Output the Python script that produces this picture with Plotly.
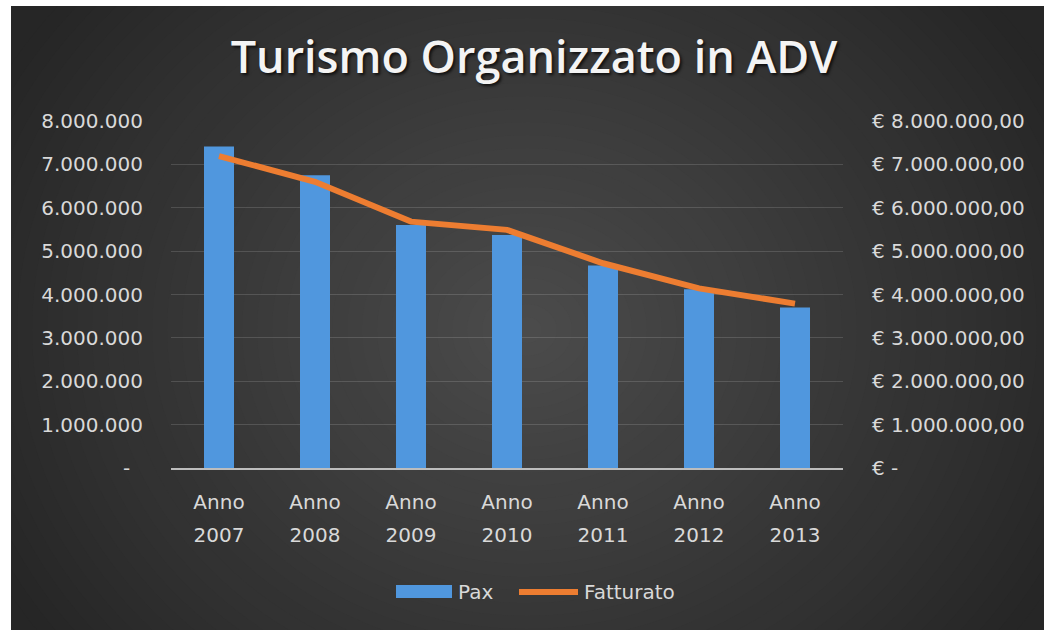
import plotly.graph_objects as go

# ---------------- data ----------------
years = ["2007", "2008", "2009", "2010", "2011", "2012", "2013"]
x_labels = ["Anno<br>" + y for y in years]
pax = [7410000, 6750000, 5600000, 5370000, 4670000, 4120000, 3700000]
fatturato = [7190000, 6600000, 5680000, 5490000, 4720000, 4140000, 3790000]

tick_vals = [0, 1000000, 2000000, 3000000, 4000000, 5000000, 6000000, 7000000, 8000000]
left_tick_text = ["-\u00a0\u00a0", "1.000.000", "2.000.000", "3.000.000", "4.000.000",
                  "5.000.000", "6.000.000", "7.000.000", "8.000.000"]
right_tick_text = ["€ -", "€ 1.000.000,00", "€ 2.000.000,00", "€ 3.000.000,00", "€ 4.000.000,00",
                   "€ 5.000.000,00", "€ 6.000.000,00", "€ 7.000.000,00", "€ 8.000.000,00"]

title_text = "Turismo Organizzato in ADV"
series_names = ["Pax", "Fatturato"]

# ---------------- geometry helpers ----------------
W, H = 1044, 630
ML, MR, MT, MB = 171, 201, 121, 162
PW, PH = W - ML - MR, H - MT - MB


def px(x):
    return (x - ML) / PW


def py(y):
    return (H - MB - y) / PH


FONT = "DejaVu Sans"
TXT = "#d9d9d9"

fig = go.Figure()
fig.add_trace(go.Bar(
    x=x_labels, y=pax, name=series_names[0],
    marker=dict(color="#5097de", line=dict(width=0)),
    showlegend=False, yaxis="y",
))
fig.add_trace(go.Scatter(
    x=x_labels, y=fatturato, name=series_names[1], mode="lines",
    line=dict(color="#ed7d31", width=6),
    showlegend=False, yaxis="y2",
))

shapes = []
# dark chart background
shapes.append(dict(type="rect", xref="paper", yref="paper", layer="below",
                   x0=px(-20), x1=px(W + 20), y0=py(H + 20), y1=py(-20),
                   fillcolor="#262626", line=dict(width=0)))
# radial light gradient approximated by stacked solid ellipses
cx, cy, rx, ry = 527, 330, 600, 520
base, delta = 38, 37
N = 40
for k in range(N, 0, -1):
    f = k / N
    r_mid = f - 0.5 / N
    v = int(round(base + delta * (1 - r_mid)))
    shapes.append(dict(type="circle", xref="paper", yref="paper", layer="below",
                       x0=px(cx - rx * f), x1=px(cx + rx * f),
                       y0=py(cy + ry * f), y1=py(cy - ry * f),
                       fillcolor=f"rgb({v},{v},{v})", line=dict(width=0)))
# white margins of the original picture (left and top)
shapes.append(dict(type="rect", xref="paper", yref="paper", layer="below",
                   x0=px(-20), x1=px(11), y0=py(H + 20), y1=py(-20),
                   fillcolor="white", line=dict(width=0)))
shapes.append(dict(type="rect", xref="paper", yref="paper", layer="below",
                   x0=px(-20), x1=px(W + 20), y0=py(6), y1=py(-20),
                   fillcolor="white", line=dict(width=0)))
# custom legend keys
shapes.append(dict(type="rect", xref="paper", yref="paper", layer="above",
                   x0=px(396), x1=px(452), y0=py(598), y1=py(585),
                   fillcolor="#5097de", line=dict(width=0)))
shapes.append(dict(type="line", xref="paper", yref="paper", layer="above",
                   x0=px(519), x1=px(578), y0=py(592), y1=py(592),
                   line=dict(color="#ed7d31", width=6)))

annotations = [
    dict(text=series_names[0], xref="paper", yref="paper", x=px(456), y=py(592),
         xanchor="left", yanchor="middle", showarrow=False,
         font=dict(family=FONT, size=20, color=TXT)),
    dict(text=series_names[1], xref="paper", yref="paper", x=px(582), y=py(592),
         xanchor="left", yanchor="middle", showarrow=False,
         font=dict(family=FONT, size=20, color=TXT)),
]

fig.update_layout(
    width=W, height=H, autosize=False,
    margin=dict(l=ML, r=MR, t=MT, b=MB, pad=0),
    paper_bgcolor="white", plot_bgcolor="rgba(0,0,0,0)",
    bargap=0.6875,
    title=dict(text=title_text, x=534 / W, xanchor="center", y=1 - 57 / H, yanchor="middle",
               font=dict(family="Open Sans", size=45, weight=600, color="#f4f4f4",
                         shadow="2px 2px 3px rgba(0,0,0,0.7)")),
    xaxis=dict(
        type="category",
        tickvals=x_labels,
        ticktext=['<span style="font-size:20px">' + t + "</span>" for t in x_labels],
        tickfont=dict(family=FONT, size=25, color=TXT),
        showline=True, linecolor="#bdbdbd", linewidth=2,
        showgrid=False, ticks="", ticklabelstandoff=9,
        fixedrange=True,
    ),
    yaxis=dict(
        range=[0, 8000000], tickvals=tick_vals, ticktext=left_tick_text,
        tickfont=dict(family=FONT, size=20, color=TXT),
        showgrid=True, gridcolor="rgba(255,255,255,0.14)", gridwidth=1,
        zeroline=False, showline=False, ticks="", ticklabelstandoff=27,
        fixedrange=True,
    ),
    yaxis2=dict(
        range=[0, 8000000], tickvals=tick_vals, ticktext=right_tick_text,
        overlaying="y", side="right",
        tickfont=dict(family=FONT, size=20, color=TXT),
        showgrid=False, zeroline=False, showline=False, ticks="", ticklabelstandoff=28,
        fixedrange=True,
    ),
    shapes=shapes,
    annotations=annotations,
    showlegend=False,
)

fig.write_html(
    "out.html",
    config={"displayModeBar": False},
    default_width="1044px",
    default_height="630px",
    post_script="document.body.style.margin='0px';document.body.style.overflow='hidden';",
)
